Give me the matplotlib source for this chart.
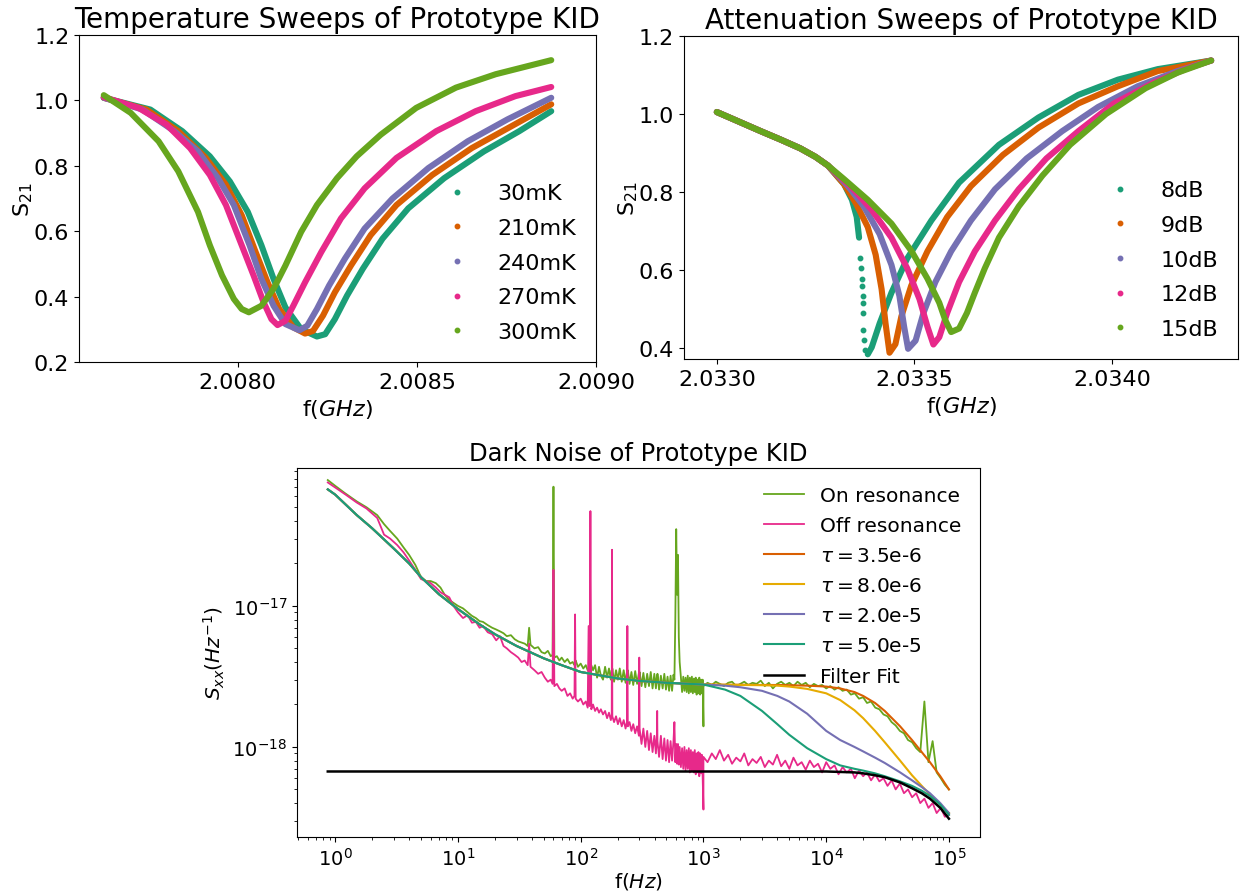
import numpy as np
import matplotlib
matplotlib.use("Agg")
import matplotlib.pyplot as plt
from matplotlib.lines import Line2D
from matplotlib.ticker import NullFormatter

# ---------------- colours (Dark2) ----------------
TEAL, ORANGE, PURPLE, PINK, GREEN, YELLOW = (
    "#1b9e77", "#d95f02", "#7570b3", "#e7298a", "#66a61e", "#e6ab02")

# ---------------- temperature sweeps (GHz, |S21|) ----------------
temp_labels = ["30mK", "210mK", "240mK", "270mK", "300mK"]
temp_colors = [TEAL, ORANGE, PURPLE, PINK, GREEN]

t30_f = [2.007626, 2.007756, 2.007845, 2.007922, 2.007978, 2.008028, 2.008066,
         2.008100, 2.008133, 2.008177, 2.008221, 2.008244, 2.008271, 2.008305,
         2.008349, 2.008404, 2.008476, 2.008576, 2.008687, 2.008786, 2.008875]
t30_s = [1.008, 0.972, 0.906, 0.829, 0.752, 0.659, 0.557, 0.454, 0.367, 0.300,
         0.278, 0.285, 0.331, 0.403, 0.485, 0.577, 0.670, 0.762, 0.844, 0.906, 0.967]

t210_f = [2.007626, 2.007745, 2.007834, 2.007911, 2.007967, 2.008011, 2.008050,
          2.008083, 2.008116, 2.008155, 2.008188, 2.008210, 2.008238, 2.008271,
          2.008316, 2.008371, 2.008443, 2.008543, 2.008653, 2.008764, 2.008875]
t210_s = [1.008, 0.972, 0.906, 0.824, 0.742, 0.649, 0.536, 0.444, 0.362, 0.306,
          0.287, 0.295, 0.342, 0.413, 0.495, 0.588, 0.680, 0.772, 0.854, 0.921, 0.988]

t240_f = [2.007626, 2.007734, 2.007823, 2.007889, 2.007945, 2.007989, 2.008033,
          2.008066, 2.008100, 2.008133, 2.008172, 2.008194, 2.008221, 2.008255,
          2.008299, 2.008354, 2.008432, 2.008532, 2.008642, 2.008753, 2.008875]
t240_s = [1.008, 0.972, 0.906, 0.844, 0.762, 0.680, 0.557, 0.454, 0.372, 0.316,
          0.297, 0.311, 0.362, 0.434, 0.516, 0.608, 0.700, 0.793, 0.875, 0.942, 1.008]

t270_f = [2.007626, 2.007723, 2.007801, 2.007867, 2.007922, 2.007967, 2.008011,
          2.008044, 2.008072, 2.008094, 2.008111, 2.008133, 2.008155, 2.008188,
          2.008233, 2.008288, 2.008354, 2.008443, 2.008554, 2.008664, 2.008775,
          2.008875]
t270_s = [1.010, 0.977, 0.926, 0.854, 0.772, 0.680, 0.557, 0.465, 0.383, 0.331,
          0.313, 0.326, 0.372, 0.444, 0.536, 0.639, 0.731, 0.824, 0.906, 0.967,
          1.013, 1.041]

t300_f = [2.007626, 2.007701, 2.007779, 2.007834, 2.007889, 2.007922, 2.007956,
          2.007989, 2.008011, 2.008031, 2.008066, 2.008100, 2.008133, 2.008177,
          2.008221, 2.008277, 2.008332, 2.008399, 2.008498, 2.008609, 2.008720,
          2.008875]
t300_s = [1.016, 0.962, 0.875, 0.783, 0.659, 0.557, 0.465, 0.393, 0.362, 0.352,
          0.372, 0.424, 0.495, 0.598, 0.680, 0.762, 0.829, 0.895, 0.977, 1.039,
          1.080, 1.123]

# ---------------- attenuation sweeps (GHz, |S21|) ----------------
att_labels = ["8dB", "9dB", "10dB", "12dB", "15dB"]
att_colors = [TEAL, ORANGE, PURPLE, PINK, GREEN]

a8_f = [2.033000, 2.033050, 2.033111, 2.033160, 2.033211, 2.033250, 2.033281,
        2.033322, 2.033342, 2.033354, 2.033360, None,
        2.033382, 2.033392, 2.033412, 2.033442, 2.033482, 2.033543, 2.033613,
        2.033714, 2.033814, 2.033915, 2.034015, 2.034116, 2.034251]
a8_s = [1.005, 0.983, 0.956, 0.935, 0.912, 0.890, 0.868,
        0.820, 0.780, 0.736, 0.683, None,
        0.384, 0.402, 0.463, 0.542, 0.630, 0.727, 0.824,
        0.921, 0.991, 1.049, 1.088, 1.115, 1.137]
# sparse points through the jump of the 8dB sweep
a8_jump_f = [2.033363, 2.033365, 2.033367, 2.033368, 2.033369, 2.033370,
             2.033370, 2.033371, 2.033372, 2.033376]
a8_jump_s = [0.630, 0.604, 0.578, 0.560, 0.534, 0.516, 0.490, 0.446, 0.420, 0.395]

a9_f = [2.033000, 2.033050, 2.033111, 2.033160, 2.033211, 2.033250, 2.033281,
        2.033322, 2.033352, 2.033382, 2.033402, 2.033417, 2.033427, 2.033437,
        2.033452, 2.033467, 2.033492, 2.033533, 2.033583, 2.033643, 2.033724,
        2.033814, 2.033915, 2.034015, 2.034116, 2.034251]
a9_s = [1.005, 0.983, 0.956, 0.935, 0.912, 0.890, 0.868,
        0.820, 0.771, 0.710, 0.639, 0.551, 0.463, 0.388,
        0.410, 0.481, 0.560, 0.648, 0.736, 0.815, 0.895,
        0.965, 1.027, 1.071, 1.110, 1.137]

a10_f = [2.033000, 2.033050, 2.033111, 2.033160, 2.033211, 2.033250, 2.033281,
         2.033332, 2.033372, 2.033412, 2.033442, 2.033462, 2.033474, 2.033484,
         2.033503, 2.033523, 2.033553, 2.033593, 2.033643, 2.033704, 2.033784,
         2.033874, 2.033965, 2.034065, 2.034166, 2.034251]
a10_s = [1.005, 0.983, 0.956, 0.935, 0.912, 0.890, 0.868,
         0.815, 0.763, 0.692, 0.613, 0.534, 0.455, 0.398,
         0.419, 0.490, 0.569, 0.648, 0.727, 0.807, 0.886,
         0.956, 1.018, 1.071, 1.110, 1.137]

a12_f = [2.033000, 2.033050, 2.033111, 2.033160, 2.033211, 2.033250, 2.033281,
         2.033342, 2.033392, 2.033442, 2.033482, 2.033513, 2.033533, 2.033548,
         2.033563, 2.033583, 2.033613, 2.033653, 2.033704, 2.033764, 2.033834,
         2.033915, 2.034005, 2.034105, 2.034186, 2.034251]
a12_s = [1.005, 0.983, 0.956, 0.935, 0.912, 0.890, 0.868,
         0.811, 0.754, 0.683, 0.604, 0.525, 0.455, 0.409,
         0.428, 0.490, 0.569, 0.648, 0.727, 0.807, 0.886,
         0.956, 1.027, 1.080, 1.115, 1.137]

a15_f = [2.033000, 2.033050, 2.033111, 2.033160, 2.033211, 2.033250, 2.033281,
         2.033322, 2.033382, 2.033442, 2.033493, 2.033533, 2.033563, 2.033578,
         2.033593, 2.033613, 2.033633, 2.033653, 2.033678, 2.033714, 2.033764,
         2.033824, 2.033894, 2.033985, 2.034085, 2.034166, 2.034251]
a15_s = [1.005, 0.983, 0.956, 0.935, 0.912, 0.890, 0.868,
         0.833, 0.780, 0.719, 0.648, 0.578, 0.516, 0.472,
         0.441, 0.450, 0.490, 0.542, 0.604, 0.683, 0.763,
         0.842, 0.921, 1.000, 1.066, 1.106, 1.137]

# ---------------- dark noise (Hz, Sxx in 1e-18 / Hz) ----------------
UNIT = 1e-18
f_low = [0.87, 1.0, 1.2, 1.5, 1.8, 2.2, 2.5, 2.8, 3.2, 3.6,
         4.0, 4.5, 5.0, 5.5, 6.0, 6.6, 7.2, 7.8, 8.5, 9.2,
         10, 11, 12, 13, 14, 15, 16, 17.5, 19, 20.5,
         22, 23.5, 25, 27, 29, 31, 33, 35, 37, 38,
         39, 42, 45, 48, 51, 54, 57, 59, 60, 61,
         64, 67, 70, 74, 78, 82, 86, 89, 90, 91,
         95, 100, 105, 110, 114, 116, 118, 120, 122, 126,
         131, 136, 141, 146, 152, 158, 164, 170, 176, 179,
         180, 181, 187, 194, 201, 208, 216, 224, 232, 238,
         240, 242, 250, 259, 268, 278, 288, 298, 300, 302,
         313, 324, 336, 348, 360, 372, 385, 398, 410, 418,
         420, 422, 435, 450, 465, 480, 495, 510, 525, 540,
         555, 570, 580, 590, 600, 610, 620, 630, 640, 655,
         670, 685, 700, 715, 730, 745, 760, 775, 790, 805,
         820, 835, 850, 865, 880, 895, 910, 925, 940, 955,
         970, 985, 1000]
on_low = [78, 71, 63, 55, 50, 44, 38, 34, 30, 26,
          23, 19.5, 16, 15, 15, 14.5, 13.5, 12, 11, 10.5,
          10, 9.6, 9.0, 8.5, 8.2, 7.8, 7.7, 7.3, 7.0, 6.8,
          6.6, 6.4, 6.1, 6.2, 5.8, 5.6, 5.5, 5.4, 5.2, 7.0,
          5.3, 5.0, 5.1, 4.7, 4.6, 4.8, 4.4, 4.5, 70, 4.3,
          4.4, 4.1, 4.3, 4.0, 4.2, 3.9, 4.0, 3.8, 3.9, 4.1,
          3.7, 3.9, 3.6, 3.8, 3.5, 3.6, 3.7, 3.4, 3.8, 3.5,
          3.8, 3.1, 3.7, 3.2, 3.0, 3.7, 3.1, 3.6, 3.0, 3.5,
          3.3, 3.6, 2.9, 3.5, 3.0, 3.6, 2.9, 3.5, 2.85, 3.4,
          3.2, 3.5, 2.8, 3.4, 2.75, 3.45, 2.8, 3.35, 3.1, 3.4,
          2.7, 3.35, 2.65, 3.3, 2.7, 3.4, 2.6, 3.3, 2.6, 3.2,
          2.9, 3.3, 2.55, 3.2, 2.6, 3.3, 2.55, 3.15, 2.5, 3.2,
          2.5, 3.25, 3.0, 8.0, 35, 12, 23, 6.0, 4.0, 3.1,
          2.45, 3.15, 2.5, 3.1, 2.45, 3.2, 2.4, 3.1, 2.45, 3.15,
          2.4, 3.05, 2.45, 3.1, 2.35, 3.0, 2.4, 3.1, 2.35, 3.0,
          2.4, 3.0, 1.4]
off_low = [75, 69, 62, 54, 49, 42, 32, 30, 27, 24,
           21, 18, 15.5, 15, 14.5, 13.5, 12.5, 12, 11.5, 10,
           9.0, 8.2, 8.6, 7.6, 7.7, 7.0, 7.2, 6.5, 6.3, 5.7,
           6.1, 5.2, 5.0, 4.7, 4.5, 4.3, 4.0, 4.1, 3.8, 5.4,
           3.7, 3.5, 3.3, 3.4, 3.1, 2.9, 3.0, 2.8, 18, 2.7,
           2.8, 2.6, 2.5, 2.6, 2.3, 2.4, 2.2, 2.3, 8.7, 2.2,
           2.1, 2.2, 2.0, 2.1, 1.9, 7.2, 1.95, 47, 1.85, 2.0,
           1.8, 1.9, 1.75, 1.85, 1.7, 1.8, 1.6, 1.75, 1.55, 1.7,
           25, 1.65, 1.5, 1.65, 1.45, 1.6, 1.4, 1.55, 1.35, 1.5,
           7.2, 1.4, 1.5, 1.3, 1.45, 1.25, 1.4, 1.2, 4.3, 1.35,
           1.05, 1.35, 1.0, 1.3, 0.95, 1.25, 0.92, 1.2, 0.9, 1.25,
           1.8, 1.1, 0.85, 1.2, 0.82, 1.15, 0.8, 1.12, 0.78, 1.1,
           0.8, 1.1, 1.5, 0.78, 1.05, 0.76, 1.05, 0.75, 1.0, 0.72,
           0.98, 0.7, 1.0, 0.68, 0.95, 0.7, 0.98, 0.66, 0.95, 0.68,
           0.92, 0.66, 0.95, 0.64, 0.9, 0.66, 0.92, 0.62, 0.9, 0.65,
           0.88, 0.62, 0.36]

f_high = [1000, 1080, 1170, 1260, 1360, 1470, 1590, 1710, 1850, 2000,
          2150, 2320, 2510, 2710, 2930, 3160, 3410, 3680, 3980, 4300,
          4640, 5010, 5410, 5840, 6310, 6810, 7360, 7940, 8580, 9260,
          10000, 10800, 11700, 12600, 13600, 14700, 15900, 17100, 18500, 20000,
          21500, 23200, 25100, 27100, 29300, 31600, 34100, 36800, 39800, 43000,
          46400, 50100, 54100, 58400, 63100, 68100, 73600, 79400, 85800, 92600,
          100000]
on_high = [2.7, 2.85, 2.75, 2.9, 2.8, 2.7, 2.85, 2.9, 2.7, 2.8,
           2.9, 2.75, 2.85, 2.8, 2.95, 2.7, 2.85, 2.6, 2.8, 2.9,
           2.75, 2.85, 2.7, 2.9, 2.75, 2.85, 2.65, 2.8, 2.7, 2.75,
           2.6, 2.7, 2.55, 2.65, 2.5, 2.55, 2.35, 2.4, 2.2, 2.25,
           2.05, 2.1, 1.9, 1.85, 1.7, 1.65, 1.5, 1.42, 1.3, 1.25,
           1.12, 1.08, 0.98, 0.92, 2.1, 0.78, 1.1, 0.66, 0.6, 0.54,
           0.5]
off_high = [0.85, 0.78, 0.9, 0.82, 0.95, 0.8, 0.88, 0.76, 0.84, 0.79,
            0.9, 0.74, 0.82, 0.77, 0.85, 0.72, 0.8, 0.75, 0.88, 0.73,
            0.8, 0.7, 0.84, 0.74, 0.78, 0.69, 0.8, 0.72, 0.76, 0.66,
            0.78, 0.7, 0.74, 0.64, 0.72, 0.66, 0.7, 0.6, 0.68, 0.62,
            0.66, 0.58, 0.64, 0.57, 0.6, 0.53, 0.58, 0.5, 0.55, 0.47,
            0.5, 0.44, 0.47, 0.4, 0.43, 0.37, 0.4, 0.34, 0.37, 0.32,
            0.33]

# model curves
f_fit = [0.87, 1, 1.5, 2, 3, 4, 5, 7, 10, 15, 20, 30, 50, 70, 100, 200, 300,
         500, 1000, 1500, 2000, 3000, 4000, 5000, 7000, 10000, 13000, 17000,
         20000, 25000, 30000, 40000, 50000, 60000, 70000, 85000, 100000]
fit_low = [67, 61.5, 44, 35.5, 25.5, 20, 16, 12.1, 9.5, 7.4, 6.3, 5.2, 4.25,
           3.8, 3.4, 3.06, 2.94, 2.85, 2.77]
tau_labels = [r"$\tau = $3.5e-6", r"$\tau = $8.0e-6", r"$\tau = $2.0e-5",
              r"$\tau = $5.0e-5"]
tau_colors = [ORANGE, YELLOW, PURPLE, TEAL]
tau35_high = [2.76, 2.76, 2.75, 2.75, 2.74, 2.72, 2.68, 2.6, 2.45, 2.3, 2.05,
              1.8, 1.4, 1.12, 0.92, 0.78, 0.62, 0.5]
tau80_high = [2.76, 2.75, 2.74, 2.72, 2.68, 2.58, 2.4, 2.15, 1.82, 1.6, 1.3,
              1.08, 0.8, 0.63, 0.53, 0.46, 0.39, 0.34]
tau200_high = [2.72, 2.65, 2.5, 2.3, 2.1, 1.72, 1.3, 1.12, 1.0, 0.93, 0.84,
               0.77, 0.66, 0.58, 0.52, 0.47, 0.4, 0.34]
tau500_high = [2.55, 2.3, 1.8, 1.45, 1.22, 0.98, 0.82, 0.74, 0.7, 0.68, 0.65,
               0.62, 0.57, 0.53, 0.49, 0.45, 0.39, 0.33]
filter_fit = [0.67] * 26 + [0.665, 0.66, 0.65, 0.63, 0.61, 0.56, 0.51, 0.47,
                            0.43, 0.37, 0.31]

noise_xticks = [1, 10, 100, 1000, 10000, 100000]
noise_yticks = [1e-18, 1e-17]

# ---------------- figure ----------------
fig = plt.figure(figsize=(12.43, 8.95), dpi=100)
ax1 = fig.add_axes([0.0636, 0.5944, 0.4159, 0.3654])
ax2 = fig.add_axes([0.5503, 0.5978, 0.4457, 0.3609])
ax3 = fig.add_axes([0.2389, 0.0637, 0.5495, 0.4123])

SWEEP_LW = 4.4


def dot_handle(color):
    return Line2D([], [], ls="none", marker="o", ms=3.2, color=color)


# temperature sweeps
temp_f = [t30_f, t210_f, t240_f, t270_f, t300_f]
temp_s = [t30_s, t210_s, t240_s, t270_s, t300_s]
for f, s, c in zip(temp_f, temp_s, temp_colors):
    ax1.plot(f, s, color=c, lw=SWEEP_LW, solid_capstyle="round",
             solid_joinstyle="round")
ax1.set_xlim(2.007557, 2.0090)
ax1.set_ylim(0.2, 1.2)
ax1.set_xticks([2.0080, 2.0085, 2.0090])
ax1.set_yticks([0.2, 0.4, 0.6, 0.8, 1.0, 1.2])
ax1.ticklabel_format(useOffset=False)
ax1.tick_params(labelsize=16)
ax1.set_title("Temperature Sweeps of Prototype KID", fontsize=20)
ax1.set_xlabel("f($GHz$)", fontsize=16)
ax1.set_ylabel("S$_{21}$", fontsize=16, labelpad=-1)
ax1.legend([dot_handle(c) for c in temp_colors], temp_labels,
           loc="lower right", frameon=False, fontsize=16, labelspacing=0.66)

# attenuation sweeps
att_f = [a8_f, a9_f, a10_f, a12_f, a15_f]
att_s = [a8_s, a9_s, a10_s, a12_s, a15_s]
for i, (f, s, c) in enumerate(zip(att_f, att_s, att_colors)):
    fa = np.array([np.nan if v is None else v for v in f], dtype=float)
    sa = np.array([np.nan if v is None else v for v in s], dtype=float)
    ax2.plot(fa, sa, color=c, lw=SWEEP_LW, solid_capstyle="round",
             solid_joinstyle="round")
    if i == 0:
        ax2.plot(a8_jump_f, a8_jump_s, ls="none", marker="o", ms=3.2, color=c)
ax2.set_xlim(2.032917, 2.034319)
ax2.set_ylim(0.372, 1.2)
ax2.set_xticks([2.0330, 2.0335, 2.0340])
ax2.set_yticks([0.4, 0.6, 0.8, 1.0, 1.2])
ax2.ticklabel_format(useOffset=False)
ax2.tick_params(labelsize=16)
ax2.set_title("Attenuation Sweeps of Prototype KID", fontsize=20)
ax2.set_xlabel("f($GHz$)", fontsize=16)
ax2.set_ylabel("S$_{21}$", fontsize=16, labelpad=-1)
ax2.legend([dot_handle(c) for c in att_colors], att_labels,
           loc="lower right", frameon=False, fontsize=16, labelspacing=0.66)

# dark noise
f_on = np.concatenate([f_low, f_high])
ax3.plot(f_on, np.concatenate([on_low, on_high]) * UNIT, color=GREEN, lw=1.3,
         label="On resonance")
ax3.plot(f_on, np.concatenate([off_low, off_high]) * UNIT, color=PINK, lw=1.3,
         label="Off resonance")
for lab, c, hi in zip(tau_labels, tau_colors,
                      [tau35_high, tau80_high, tau200_high, tau500_high]):
    ax3.plot(f_fit, np.array(fit_low + hi) * UNIT, color=c, lw=1.5, label=lab)
ax3.plot(f_fit, np.array(filter_fit) * UNIT, color="black", lw=1.8,
         label="Filter Fit")
ax3.set_xscale("log")
ax3.set_yscale("log")
ax3.set_xticks(noise_xticks)
ax3.set_yticks(noise_yticks)
ax3.set_xlim(0.488, 1.79e5)
ax3.set_ylim(2.3e-19, 9.5e-17)
ax3.xaxis.set_minor_formatter(NullFormatter())
ax3.yaxis.set_minor_formatter(NullFormatter())
ax3.tick_params(labelsize=14)
ax3.set_title("Dark Noise of Prototype KID", fontsize=17.5)
ax3.set_xlabel("f($Hz$)", fontsize=14.5, labelpad=1)
ax3.set_ylabel("$S_{xx}(Hz^{-1})$", fontsize=14.5)
ax3.legend(loc="upper right", frameon=False, fontsize=14.5, labelspacing=0.55)

fig.savefig("out.png", dpi=100)
